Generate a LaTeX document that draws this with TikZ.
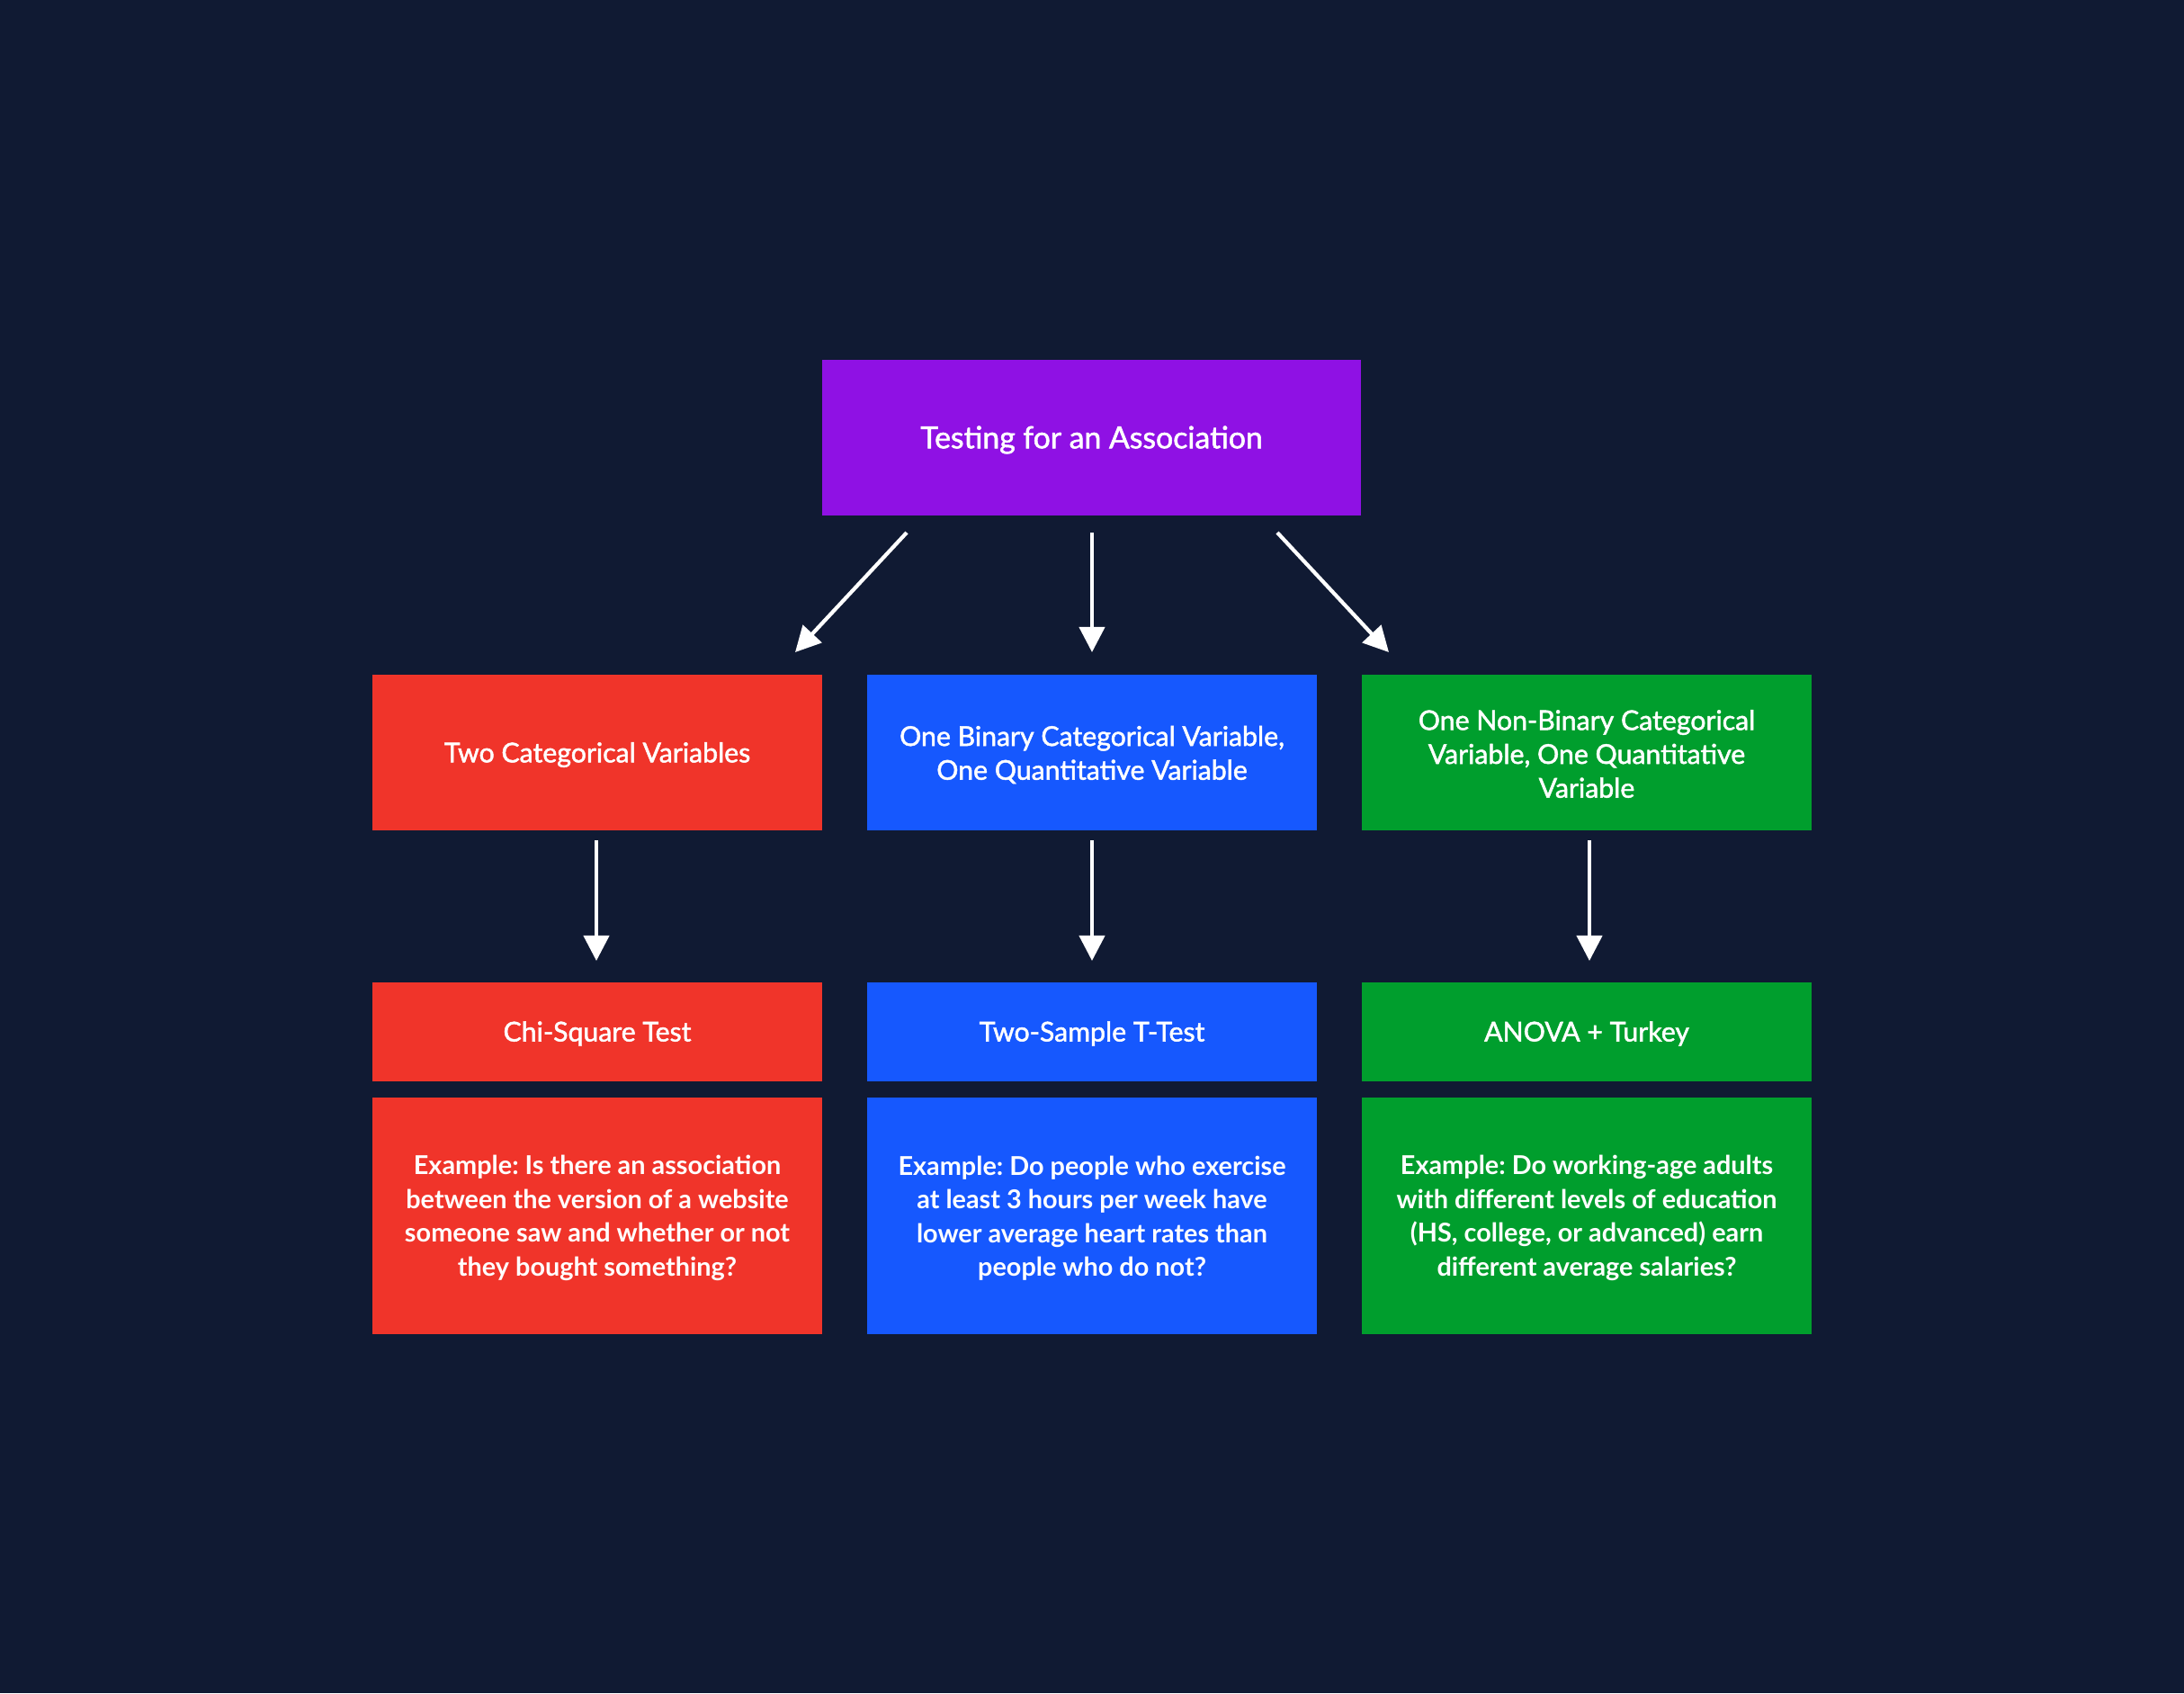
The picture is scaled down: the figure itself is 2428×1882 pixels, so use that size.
\documentclass[tikz,border=0pt]{standalone}
\usepackage{fontspec}
\setmainfont{Lato}
\newfontfamily\headfont{Lato}[FakeBold=1.6]
\newfontfamily\exfont{Lato}[UprightFont=* Bold]
\usetikzlibrary{arrows.meta}
\frenchspacing
\definecolor{bg}{HTML}{101A33}
\definecolor{cpurple}{HTML}{8F11E4}
\definecolor{cred}{HTML}{F0342A}
\definecolor{cblue}{HTML}{1658FE}
\definecolor{cgreen}{HTML}{009E2D}
\begin{document}
\begin{tikzpicture}[x=0.01cm,y=-0.01cm,
  box/.style={inner sep=0pt,outer sep=0pt,text=white,align=center},
  headtxt/.style={font=\headfont\fontsize{8.6}{10.7}\selectfont},
  extxt/.style={font=\exfont\fontsize{8.2}{10.66}\selectfont\frenchspacing},
  conn/.style={draw=white,line width=1.2pt,-{Triangle[width=8pt,length=8pt]}}]
\fill[bg] (0,0) rectangle (2428,1882);
\useasboundingbox (0,0) rectangle (2428,1882);
% top
\fill[cpurple] (914,400) rectangle (1513,573);
\node[box,font=\headfont\fontsize{9.6}{11}\selectfont] (top) at (1213.5,489) {Testing for an Association};
% row 2
\fill[cred] (414,750) rectangle (914,923);
\fill[cblue] (964,750) rectangle (1464,923);
\fill[cgreen] (1514,750) rectangle (2014,923);
\node[box,headtxt] (a1) at (664,839) {Two Categorical Variables};
\node[box,headtxt] (b1) at (1214,839) {One Binary Categorical Variable,\\One Quantitative Variable};
\node[box,headtxt] (c1) at (1764,838) {One Non-Binary Categorical\\Variable, One Quantitative\\Variable};
% row 3
\fill[cred] (414,1092) rectangle (914,1202);
\fill[cblue] (964,1092) rectangle (1464,1202);
\fill[cgreen] (1514,1092) rectangle (2014,1202);
\node[box,headtxt] (a2) at (664,1149) {Chi-Square Test};
\node[box,headtxt] (b2) at (1214,1149) {Two-Sample T-Test};
\node[box,headtxt] (c2) at (1764,1149) {ANOVA + Turkey};
% row 4
\fill[cred] (414,1220) rectangle (914,1483);
\fill[cblue] (964,1220) rectangle (1464,1483);
\fill[cgreen] (1514,1220) rectangle (2014,1483);
\node[box,extxt] (a3) at (664,1354) {Example: Is there an association\\between the version of a website\\someone saw and whether or not\\they bought something?};
\node[box,extxt] (b3) at (1214,1354) {Example: Do people who exercise\\at least 3 hours per week have\\lower average heart rates than\\people who do not?};
\node[box,extxt] (c3) at (1764,1354) {Example: Do working-age adults\\with different levels of education\\(HS, college, or advanced) earn\\different average salaries?};
% connector end points
\coordinate (t1) at (1008,592);
\coordinate (t2) at (1214,592);
\coordinate (t3) at (1420,592);
\coordinate (h1) at (884,725);
\coordinate (h2) at (1214,725);
\coordinate (h3) at (1544,725);
\coordinate (s1) at (663,934);
\coordinate (s2) at (1214,934);
\coordinate (s3) at (1767,934);
\coordinate (e1) at (663,1068);
\coordinate (e2) at (1214,1068);
\coordinate (e3) at (1767,1068);
\draw[conn] (t1) -- (h1);
\draw[conn] (t2) -- (h2);
\draw[conn] (t3) -- (h3);
\draw[conn] (s1) -- (e1);
\draw[conn] (s2) -- (e2);
\draw[conn] (s3) -- (e3);
\end{tikzpicture}
\end{document}
